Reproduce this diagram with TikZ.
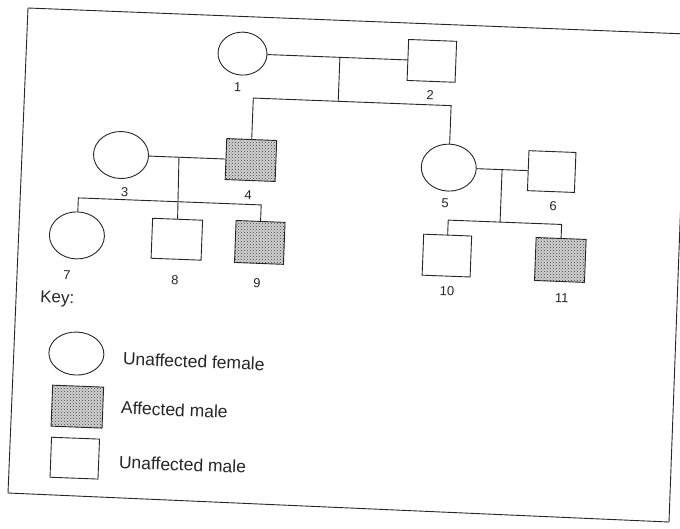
\documentclass[tikz,border=0pt]{standalone}
\usepackage{fontspec}
\setmainfont{Liberation Sans}
\usetikzlibrary{shapes.geometric,patterns}

\begin{document}
\begin{tikzpicture}[x=1pt,y=-1pt,color=black!85,line width=.9pt,
    fem/.style={draw,ellipse,inner sep=0pt,minimum width=55pt,minimum height=47pt},%
    mal/.style={draw,rectangle,inner sep=0pt,minimum width=48pt,minimum height=41pt},%
    aff/.style={mal,preaction={fill=black!18},pattern=crosshatch dots,pattern color=black!75},%
    num/.style={font=\fontsize{13}{15}\selectfont},%
    keytext/.style={anchor=west,font=\fontsize{17.5}{20}\selectfont}]%
  \useasboundingbox (0,0) rectangle (680,528);%
  \clip (0,0) rectangle (680,528);%
  \fill [white] (0,0) rectangle (680,528);%
  % frame of the sheet
  \draw (28,8) -- (687,34) -- (669,522) -- (8,493) -- cycle;%
  \begin{scope}[rotate around={-2.2:(340,264)},transform shape]%
    % generation I
    \node [fem,minimum width=49pt,minimum height=43pt] (c1) at (234.5,57.5) {};%
    \node [mal] (s2) at (424,57.5) {};%
    \node [num] (n1) at (231,91) {1};%
    \node [num] (n2) at (423.5,91.5) {2};%
    % generation II
    \node [fem] (c3) at (117,163.5) {};%
    \node [aff,minimum width=50pt] (s4) at (247,163.5) {};%
    \node [fem] (c5) at (445,163.5) {};%
    \node [mal,minimum width=47pt,minimum height=40pt] (s6) at (548,163.5) {};%
    \node [num] (n3) at (122,200) {3};%
    \node [num] (n4) at (245.5,198.5) {4};%
    \node [num] (n5) at (442.7,199) {5};%
    \node [num] (n6) at (550.8,198) {6};%
    % generation III
    \node [fem] (c7) at (76,245.5) {};%
    \node [mal,minimum width=50pt,minimum height=40pt] (s8) at (176,245.5) {};%
    \node [aff,minimum width=49pt,minimum height=42pt] (s9) at (259,245.5) {};%
    \node [mal] (s10) at (446.5,251.5) {};%
    \node [aff,minimum width=50pt,minimum height=43pt] (s11) at (560,251.5) {};%
    \node [num] (n7) at (67.4,285.5) {7};%
    \node [num] (n8) at (175.6,286.3) {8};%
    \node [num] (n9) at (257.7,286) {9};%
    \node [num] (n10) at (448,287) {10};%
    \node [num] (n11) at (563,289.5) {11};%
    % lines of descent
    \coordinate (m12) at (332,57.5);%
    \coordinate (k12) at (332,101.5);%
    \coordinate (m34) at (175,163.5);%
    \coordinate (k34) at (175,208);%
    \coordinate (m56) at (498.4,163.5);%
    \coordinate (k56) at (498.4,216);%
    \draw (c1) -- (s2);%
    \draw (m12) -- (k12);%
    \draw (s4.north) |- (k12) -| (c5.north);%
    \draw (c3) -- (s4);%
    \draw (m34) -- (s8.north);%
    \draw (c7.north) |- (k34) -| (s9.north);%
    \draw (c5) -- (s6);%
    \draw (m56) -- (k56);%
    \draw (s10.north) |- (k56) -| (s11.north);%
    % key
    \node [anchor=west,font=\fontsize{17}{19}\selectfont] (key) at (38,309.7) {Key:};%
    \node [fem,minimum height=43pt] (kf) at (80,363.6) {};%
    \node [aff,minimum width=51pt] (ka) at (83,416.6) {};%
    \node [mal,minimum height=40pt] (ku) at (82.4,468.2) {};%
    \node [keytext] (tf) at (123,367) {Unaffected female};%
    \node [keytext] (ta) at (123,416) {Affected male};%
    \node [keytext] (tu) at (123,470.5) {Unaffected male};%
  \end{scope}%
\end{tikzpicture}
\end{document}
